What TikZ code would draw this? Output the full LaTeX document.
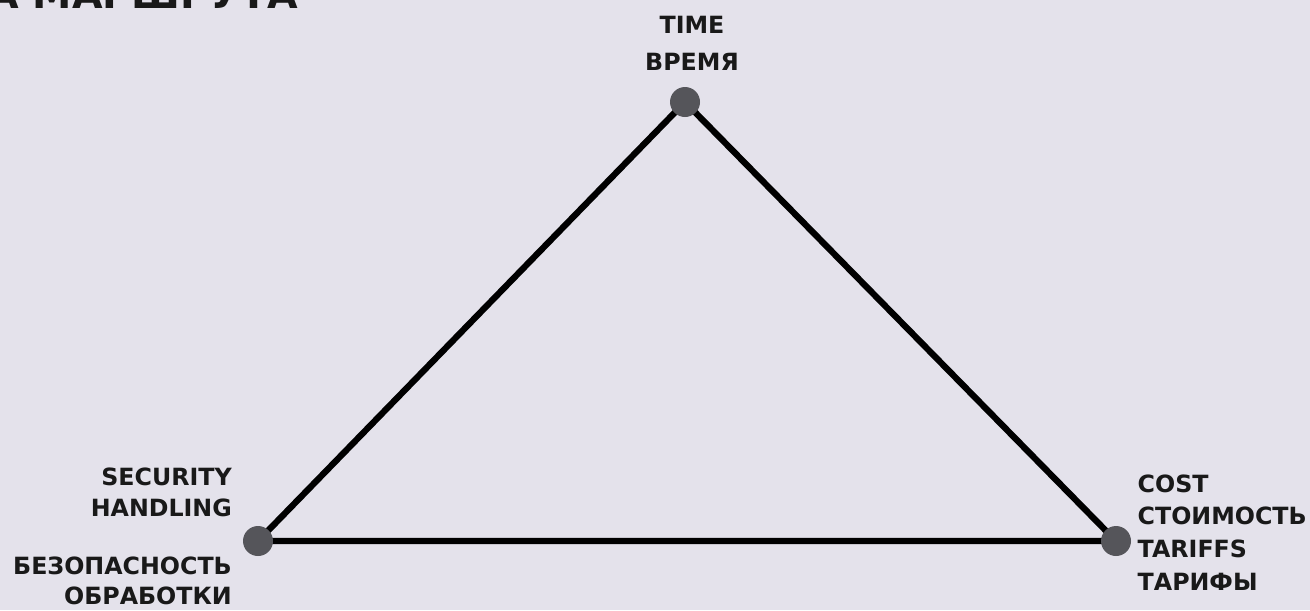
\documentclass[tikz,border=0pt]{standalone}
\usepackage{fontspec}
\setmainfont{DejaVu Sans}
\usetikzlibrary{positioning,backgrounds}
\definecolor{paper}{RGB}{228,226,235}
\definecolor{dotgray}{RGB}{85,85,90}

\begin{document}
\begin{tikzpicture}[
  x=0.02cm, y=-0.02cm,
  vertex/.style={circle, fill=dotgray, minimum size=0.6cm, inner sep=0pt},
  edge/.style={line width=3.6pt, black},
  lbl/.style={inner sep=0pt, text=black!90},
  heading/.style={inner sep=0pt, text=black!90, font=\bfseries\fontsize{22.5}{26}\selectfont}
]
\useasboundingbox (0,0) rectangle (1310,610);

% corners of the triangle
\node[vertex] (time) at (685,102) {};
\node[vertex] (security) at (258,541) {};
\node[vertex] (cost) at (1116,541) {};

\begin{scope}[on background layer]
  \fill[paper] (0,0) rectangle (1310,610);
  \draw[edge] (security.center) -- (time.center) -- (cost.center) -- cycle;
\end{scope}

% title, cut off at the top edge
\node[heading, anchor=base east] (title) at (298,8) {ВЫБОРА МАРШРУТА};

% labels
\node[lbl, align=center, font=\bfseries\fontsize{13.5}{21}\selectfont,
  above=0.32cm of time, xshift=0.14cm] (timetext) {TIME\\ВРЕМЯ};
\node[lbl, align=right, font=\bfseries\fontsize{13.5}{17.6}\selectfont,
  above left=0.26cm and 0.3cm of security] (handling) {SECURITY\\HANDLING};
\node[lbl, align=right, font=\bfseries\fontsize{13.5}{17}\selectfont,
  below left=0.1cm and 0.3cm of security] (obrabotka) {БЕЗОПАСНОСТЬ\\ОБРАБОТКИ};
\node[lbl, align=left, font=\bfseries\fontsize{13.5}{18.7}\selectfont,
  right=0.12cm of cost, yshift=0.17cm] (tariffs) {COST\\СТОИМОСТЬ\\TARIFFS\\ТАРИФЫ};

\end{tikzpicture}
\end{document}
